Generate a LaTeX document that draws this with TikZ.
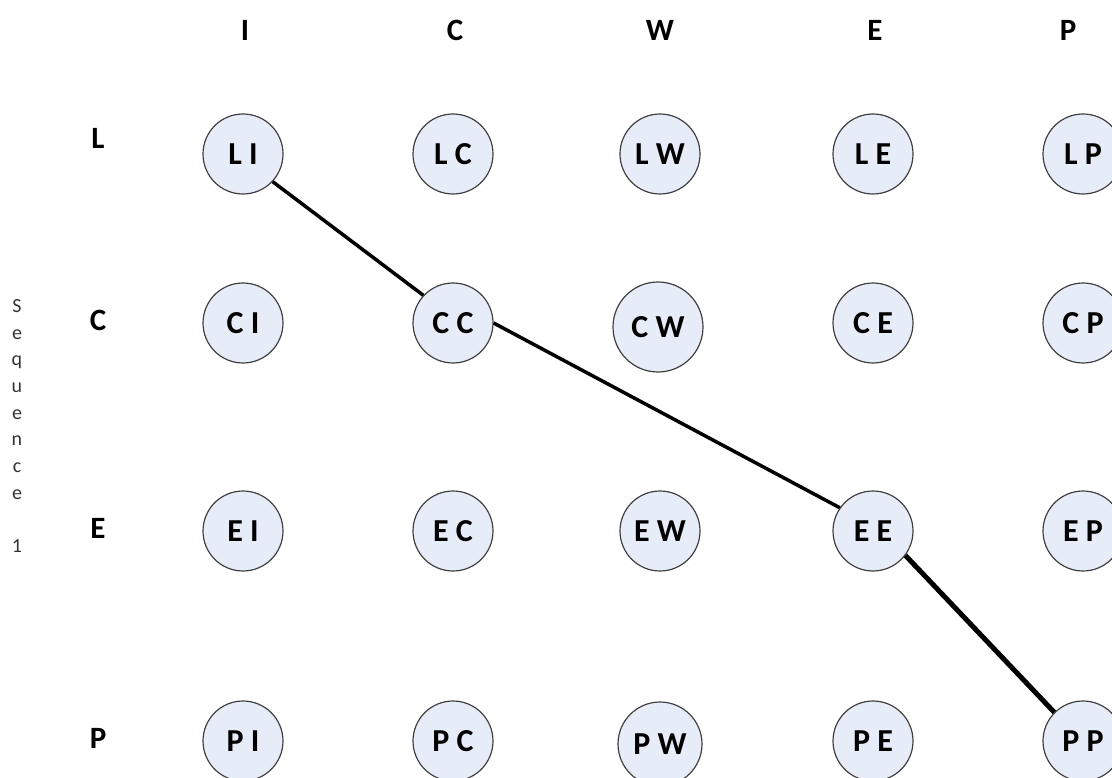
\documentclass[tikz,border=0pt]{standalone}
\usepackage{fontspec}
\setmainfont{Carlito}
\usetikzlibrary{
  arrows.meta,
  shapes.geometric,
  positioning
}
\definecolor{stFill}{HTML}{E7EDF8}
\definecolor{stDraw}{HTML}{404040}
\tikzset{
  state/.style={
    draw=stDraw, circle, fill=stFill, line width=1.2pt, inner sep=0pt,
    minimum size=80pt, font=\fontsize{32}{34}\selectfont\bfseries
  },
  axislabel/.style={font=\fontsize{31}{33}\selectfont\bfseries, inner sep=0pt},
  seqlabel/.style={font=\fontsize{20}{26.7}\selectfont, text=black!80, align=center, inner sep=0pt},
  pathline/.style={line width=3.5pt, black},
  paththick/.style={line width=5pt, black}
}
\begin{document}
\begin{tikzpicture}[x=1pt, y=-1pt]
  \useasboundingbox (0,0) rectangle (1112,778);
  % column and row headings
  \foreach \cl/\hx in {I/245, C/455, W/660, E/875, P/1068}{\node[axislabel] (h\cl) at (\hx,30) {\cl};}
  \foreach \rw/\vy in {L/138, C/320, E/528, P/738}{\node[axislabel] (v\rw) at (98,\vy) {\rw};}
  \node[seqlabel] (seq) at (17,426) {S\\e\\q\\u\\e\\n\\c\\e\\ \\1};
  % state grid
  \foreach \rw/\ry in {L/154, E/531}{
    \foreach \cl/\cx in {I/243, C/453, W/660, E/873, P/1083}{\node[state] (\rw\cl) at (\cx,\ry) {\rw\ \cl};}
  }
  \foreach \rw/\ry in {C/323, P/741}{
    \foreach \cl/\cx in {I/243, C/453, E/873, P/1083}{\node[state] (\rw\cl) at (\cx,\ry) {\rw\ \cl};}
  }
  \node[state, minimum size=90pt] (CW) at (658,327) {C\ W};
  \node[state, minimum size=84pt] (PW) at (660,744) {P\ W};
  % best path
  \draw[pathline] (LI.-43) -- (CC.137);
  \draw[pathline] (CC.east) -- (EE.145);
  \draw[paththick] (EE.-37) -- (PP.135);
\end{tikzpicture}
\end{document}
